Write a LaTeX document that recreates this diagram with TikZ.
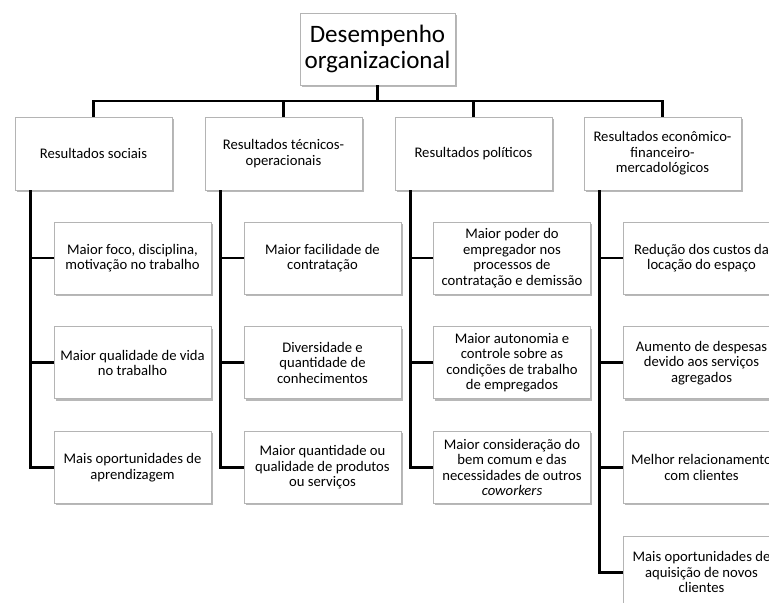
\documentclass[tikz,border=0pt]{standalone}
\usepackage{fontspec}
\setmainfont{Carlito}
\usetikzlibrary{positioning,shadows}
\definecolor{boxline}{HTML}{B4B4B4}
\definecolor{boxshade}{HTML}{9A9A9A}
\tikzset{
  box/.style={draw=boxline,line width=0.6pt,fill=white,align=center,
    minimum width=117.75pt,minimum height=54pt,inner sep=2pt,
    font=\fontsize{11pt}{11.6pt}\selectfont,
    drop shadow={shadow xshift=1.3pt,shadow yshift=-1.3pt,fill=boxshade,opacity=.7}},
  headbox/.style={box,minimum height=54.75pt},
  topbox/.style={box,minimum width=116.25pt,font=\fontsize{18.8pt}{19pt}\selectfont},
  link/.style={line width=2pt,black}
}
\begin{document}
\begin{tikzpicture}[x=0.75pt,y=-0.75pt]
  \useasboundingbox (0,0) rectangle (769,603);
  \fill[white] (0,0) rectangle (769,603);
  \clip (0,0) rectangle (769,603);
  % top and first level
  \node[topbox] (desemp) at (377.5,49) {Desempenho\\organizacional};
  \coordinate (bus) at (377.5,101);
  \node[headbox] (soc) at (93.5,153.5) {Resultados sociais};
  \node[headbox] (tec) at (283.5,153.5) {Resultados técnicos-\\operacionais};
  \node[headbox] (pol) at (473.5,153.5) {Resultados políticos};
  \node[headbox] (eco) at (662.5,153.5) {Resultados econômico-\\financeiro-\\mercadológicos};
  % sociais
  \node[box] (soc1) at (132.5,258) {Maior foco, disciplina,\\motivação no trabalho};
  \node[box,below=24pt of soc1] (soc2) {Maior qualidade de vida\\no trabalho};
  \node[box,below=24pt of soc2] (soc3) {Mais oportunidades de\\aprendizagem};
  % tecnicos
  \node[box] (tec1) at (322.5,258) {Maior facilidade de\\contratação};
  \node[box,below=24pt of tec1] (tec2) {Diversidade e\\quantidade de\\conhecimentos};
  \node[box,below=24pt of tec2] (tec3) {Maior quantidade ou\\qualidade de produtos\\ou serviços};
  % politicos
  \node[box] (pol1) at (512,258) {Maior poder do\\empregador nos\\processos de\\contratação e demissão};
  \node[box,below=24pt of pol1] (pol2) {Maior autonomia e\\controle sobre as\\condições de trabalho\\de empregados};
  \node[box,below=24pt of pol2] (pol3) {Maior consideração do\\bem comum e das\\necessidades de outros\\\textit{coworkers}};
  % economico
  \node[box] (eco1) at (701.5,258) {Redução dos custos da\\locação do espaço};
  \node[box,below=24pt of eco1] (eco2) {Aumento de despesas\\devido aos serviços\\agregados};
  \node[box,below=24pt of eco2] (eco3) {Melhor relacionamento\\com clientes};
  \node[box,below=24pt of eco3] (eco4) {Mais oportunidades de\\aquisição de novos\\clientes};
  % connectors
  \foreach \p in {soc,tec,pol,eco}
    \draw[link] (desemp.south) -- (bus) -| (\p.north);
  \foreach \p in {soc,tec,pol}
    \foreach \c in {1,2,3}
      \draw[link] ([xshift=12pt]\p.south west) |- (\p\c.west);
  \foreach \c in {1,2,3,4}
    \draw[link] ([xshift=12pt]eco.south west) |- (eco\c.west);
\end{tikzpicture}
\end{document}
